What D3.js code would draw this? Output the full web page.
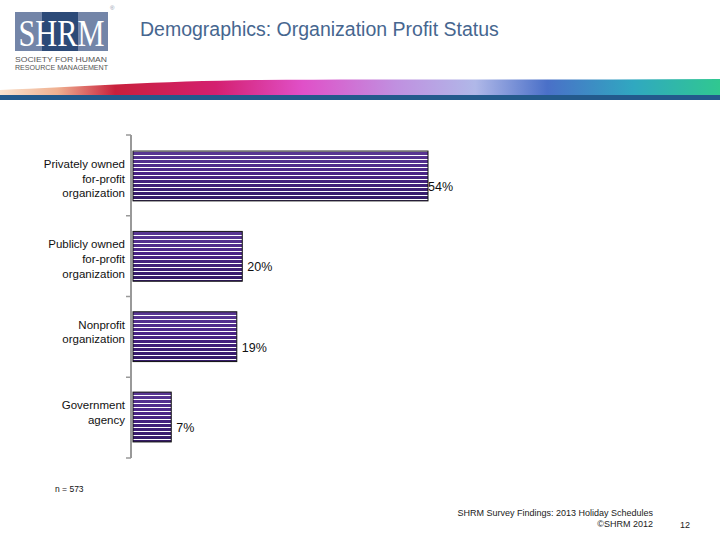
<!DOCTYPE html>
<html><head><meta charset="utf-8">
<script src="https://cdn.jsdelivr.net/npm/d3@7"></script>
<style>html,body{margin:0;padding:0;background:#fff;}svg{display:block;}</style>
</head><body>
<svg id="chart" width="720" height="540"></svg>
<script>
const categories = [
  ["Privately owned", "for-profit", "organization"],
  ["Publicly owned", "for-profit", "organization"],
  ["Nonprofit", "organization"],
  ["Government", "agency"]
];
const values = [54, 20, 19, 7];
const valueLabels = ["54%", "20%", "19%", "7%"];
const titleText = "Demographics: Organization Profit Status";
const noteText = "n = 573";
const footerLines = ["SHRM Survey Findings: 2013 Holiday Schedules", "\u00A9SHRM 2012"];
const pageNum = "12";

const svg = d3.select("#chart");
const defs = svg.append("defs");
const font = "'Liberation Sans', Arial, sans-serif";

// Banner gradient
const bg = defs.append("linearGradient").attr("id","banner").attr("x1","0").attr("x2","1").attr("y1","0").attr("y2","0");
[["0","#f9e4d0"],["0.08","#f0b090"],["0.16","#c8203c"],["0.3","#d42070"],["0.42","#e050c8"],["0.55","#c090e0"],["0.66","#b0b8e8"],["0.76","#4a70c8"],["0.88","#30a8c0"],["1","#30c890"]]
  .forEach(([o,c])=>bg.append("stop").attr("offset",o).attr("stop-color",c));
svg.append("path")
  .attr("d","M0,96 L0,90 C80,87 160,81 260,80 C400,79 560,80 720,79 L720,96 Z")
  .attr("fill","url(#banner)");
svg.append("path")
  .attr("d","M0,96 C120,94 200,88 300,88 L720,86 L720,96 Z")
  .attr("fill","url(#banner)").attr("opacity",0.6);
svg.append("rect").attr("x",0).attr("y",95).attr("width",720).attr("height",5).attr("fill","#235a8c");

// Logo
const logo = svg.append("g");
logo.append("rect").attr("x",15).attr("y",12).attr("width",93).attr("height",39).attr("fill","#7385a8");
logo.append("rect").attr("x",42).attr("y",12).attr("width",36).attr("height",39).attr("fill","#2c4a78");
logo.append("text").attr("x",61.5).attr("y",46).attr("text-anchor","middle")
  .attr("font-family","'Liberation Serif', 'DejaVu Serif', serif").attr("font-size",37).attr("fill","#fff")
  .attr("textLength",86).attr("lengthAdjust","spacingAndGlyphs").text("SHRM");
logo.append("text").attr("x",110).attr("y",10).attr("font-family",font).attr("font-size",6).attr("fill","#8a94aa").text("®");
logo.append("text").attr("x",15).attr("y",62).attr("font-family",font).attr("font-size",8).attr("fill","#555")
  .attr("textLength",92).attr("lengthAdjust","spacingAndGlyphs").text("SOCIETY FOR HUMAN");
logo.append("text").attr("x",15).attr("y",70).attr("font-family",font).attr("font-size",8).attr("fill","#555")
  .attr("textLength",93).attr("lengthAdjust","spacingAndGlyphs").text("RESOURCE MANAGEMENT");

// Title
svg.append("text").attr("x",140).attr("y",36).attr("font-family",font).attr("font-size",19.5)
  .attr("fill","#46668f").text(titleText);

// Chart
const x0 = 131;
const x = d3.scaleLinear().domain([0, 54]).range([x0 + 2, 428]);
const y = d3.scaleBand().domain(d3.range(values.length)).range([135, 458]).paddingInner(0.38).paddingOuter(0.2);

// Bar fill gradient + stripes
const bgr = defs.append("linearGradient").attr("id","barGrad").attr("x1","0").attr("x2","0").attr("y1","0").attr("y2","1");
[["0","#5a3894"],["0.45","#4a2486"],["1","#341a66"]].forEach(([o,c])=>bgr.append("stop").attr("offset",o).attr("stop-color",c));
const pat = defs.append("pattern").attr("id","stripes").attr("patternUnits","userSpaceOnUse")
  .attr("width",10).attr("height",4);
pat.append("rect").attr("x",0).attr("y",3).attr("width",10).attr("height",1).attr("fill","#fff");

const bars = svg.append("g");
values.forEach((v,i)=>{
  const by = y(i), bh = y.bandwidth();
  bars.append("rect").attr("x",x(0)).attr("y",by).attr("width",x(v)-x(0)).attr("height",bh)
    .attr("fill","url(#barGrad)");
  bars.append("rect").attr("x",x(0)).attr("y",by).attr("width",x(v)-x(0)).attr("height",bh)
    .attr("fill","url(#stripes)");
  bars.append("rect").attr("x",x(0)).attr("y",by).attr("width",x(v)-x(0)).attr("height",bh)
    .attr("fill","none").attr("stroke","#111").attr("stroke-width",1);
  svg.append("text").attr("x",x(v) + (i===0?0:5)).attr("y",by + bh/2 + 15)
    .attr("font-family",font).attr("font-size",12.5).attr("fill","#111").text(valueLabels[i]);
});

// Axis
const axisG = svg.append("g");
axisG.append("line").attr("x1",x0).attr("x2",x0).attr("y1",135).attr("y2",458)
  .attr("stroke","#999").attr("stroke-width",2);
d3.range(values.length+1).forEach(k=>{
  const ty = 135 + k*(458-135)/values.length;
  axisG.append("line").attr("x1",x0-5).attr("x2",x0).attr("y1",ty).attr("y2",ty).attr("stroke","#999").attr("stroke-width",1.5);
});

// Category labels
categories.forEach((lines,i)=>{
  const t = svg.append("text").attr("font-family",font).attr("font-size",11.5).attr("fill","#111").attr("text-anchor","end");
  lines.forEach((ln,j)=>{
    t.append("tspan").attr("x",125).attr("y",y(i) + 17 + j*14.6).text(ln);
  });
});

// Note
svg.append("text").attr("x",55).attr("y",492).attr("font-family",font).attr("font-size",8.5).attr("fill","#111").text(noteText);

// Footer
svg.append("text").attr("x",653).attr("y",516).attr("text-anchor","end").attr("font-family",font).attr("font-size",9).attr("fill","#222").text(footerLines[0]);
svg.append("text").attr("x",653).attr("y",527).attr("text-anchor","end").attr("font-family",font).attr("font-size",9).attr("fill","#222").text(footerLines[1]);
svg.append("text").attr("x",680).attr("y",528).attr("font-family",font).attr("font-size",9).attr("fill","#222").text(pageNum);
</script>
</body></html>
